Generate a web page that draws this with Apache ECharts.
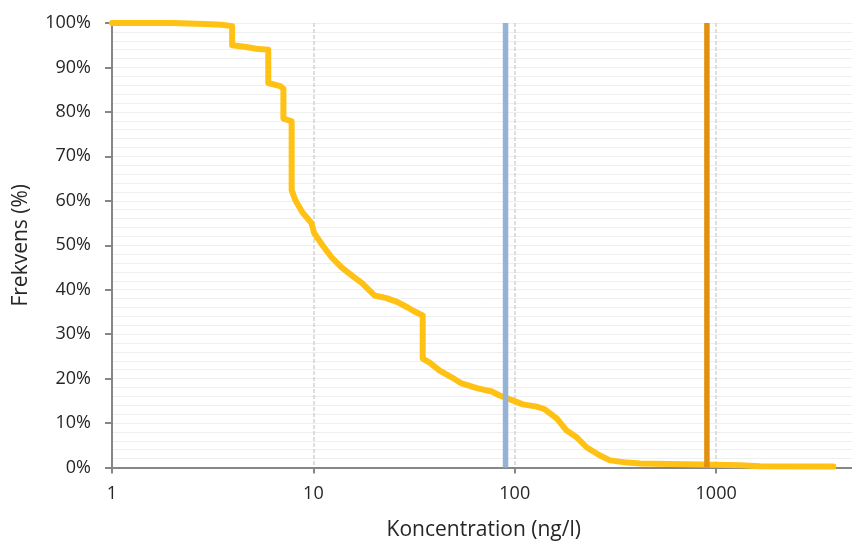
<!DOCTYPE html>
<html>
<head>
<meta charset="utf-8">
<script src="https://cdn.jsdelivr.net/npm/echarts@6/dist/echarts.min.js"></script>
<style>
  html, body { margin: 0; padding: 0; background: #fff; }
  #chart { width: 852px; height: 545px; }
</style>
</head>
<body>
<div id="chart"></div>
<script>
// Exceedance curve: concentration (ng/l) vs. share of samples above it (%)
const concentration = [1, 2.0, 2.9, 3.5, 3.95, 3.95, 4.64, 5.2, 5.97, 5.97, 6.85, 7.1, 7.1, 7.8, 7.8,
  8.14, 8.82, 9.78, 10.1, 11.1, 12.3, 13.8, 15.5, 17.5, 20.1, 23.1, 26.2, 29.4, 31.5, 34.9, 34.9,
  37.8, 42.4, 48.6, 54.5, 65.5, 76.9, 84.2, 97.7, 109.6, 128.6, 141, 162, 181, 203, 228, 265, 297,
  361, 419, 832, 1316, 1656, 3820];
const frequency = [100, 100, 99.8, 99.6, 99.3, 95.0, 94.6, 94.2, 94.0, 86.5, 85.8, 85.2, 78.5, 77.9, 62.4,
  60.1, 57.4, 55.0, 52.7, 50.0, 47.3, 45.0, 43.2, 41.4, 38.7, 38.1, 37.2, 36.0, 35.2, 34.2, 24.5,
  23.6, 21.8, 20.3, 18.9, 17.8, 17.1, 16.2, 15.1, 14.2, 13.7, 13.1, 11.0, 8.3, 6.8, 4.5, 2.7, 1.6,
  1.1, 0.9, 0.7, 0.5, 0.3, 0.2];

// Reference levels (ng/l) drawn as vertical lines
const lowerLimit = 90;
const upperLimit = 900;

const xTicks = [1, 10, 100, 1000, 10000];
const yTicksPct = [0, 10, 20, 30, 40, 50, 60, 70, 80, 90, 100];

const curve = concentration.map((c, i) => [c, frequency[i]]);
const yMin = yTicksPct[0], yMax = yTicksPct[yTicksPct.length - 1];

const FONT = '"Open Sans", sans-serif';
const TXT = '#262626';
const AXIS = '#868686';

const chart = echarts.init(document.getElementById('chart'), null, { renderer: 'canvas' });
chart.setOption({
  animation: false,
  backgroundColor: '#ffffff',
  // the plot runs on past the right edge of the canvas (up to 10000 ng/l)
  grid: { left: 112, top: 23, width: 805.5, bottom: 77.5, containLabel: false, outerBoundsMode: 'none' },
  xAxis: {
    type: 'log',
    logBase: 10,
    min: xTicks[0],
    max: xTicks[xTicks.length - 1],
    name: 'Koncentration (ng/l)',
    nameLocation: 'middle',
    nameGap: 52,
    nameTextStyle: { fontFamily: FONT, fontSize: 21, color: TXT, padding: [0, 62, 0, 0] },
    axisLine: { show: true, lineStyle: { color: AXIS, width: 2 } },
    axisTick: { show: true, length: 6, lineStyle: { color: AXIS, width: 2 } },
    axisLabel: {
      fontFamily: FONT, fontSize: 18, color: TXT, margin: 17,
      formatter: v => String(Math.round(v))
    },
    splitLine: {
      show: true, showMinLine: false, showMaxLine: false,
      lineStyle: { color: '#d4d4d4', width: 1.5, type: [4, 2] }
    },
    minorTick: { show: false },
    minorSplitLine: { show: false }
  },
  yAxis: {
    type: 'value',
    min: yMin,
    max: yMax,
    interval: 10,
    name: 'Frekvens (%)',
    nameLocation: 'middle',
    nameGap: 80,
    nameTextStyle: { fontFamily: FONT, fontSize: 21, color: TXT },
    axisLine: { show: true, lineStyle: { color: AXIS, width: 2 } },
    axisTick: { show: true, length: 7, lineStyle: { color: AXIS, width: 2 } },
    axisLabel: { fontFamily: FONT, fontSize: 18, color: TXT, margin: 21, formatter: '{value}%' },
    splitLine: { show: true, lineStyle: { color: '#efefef', width: 1 } },
    minorTick: { show: false, splitNumber: 5 },
    minorSplitLine: { show: true, lineStyle: { color: '#efefef', width: 1 } }
  },
  series: [
    {
      type: 'line',
      data: curve,
      showSymbol: false,
      symbol: 'none',
      lineStyle: { color: '#FFC114', width: 6, cap: 'round', join: 'round' },
      z: 2
    },
    {
      type: 'line',
      data: [[lowerLimit, yMin], [lowerLimit, yMax]],
      symbol: 'none',
      lineStyle: { color: '#95B3D7', width: 5.5 },
      z: 3
    },
    {
      type: 'line',
      data: [[upperLimit, yMin], [upperLimit, yMax]],
      symbol: 'none',
      lineStyle: { color: '#E3900E', width: 5.5 },
      z: 3
    }
  ]
});
</script>
</body>
</html>
